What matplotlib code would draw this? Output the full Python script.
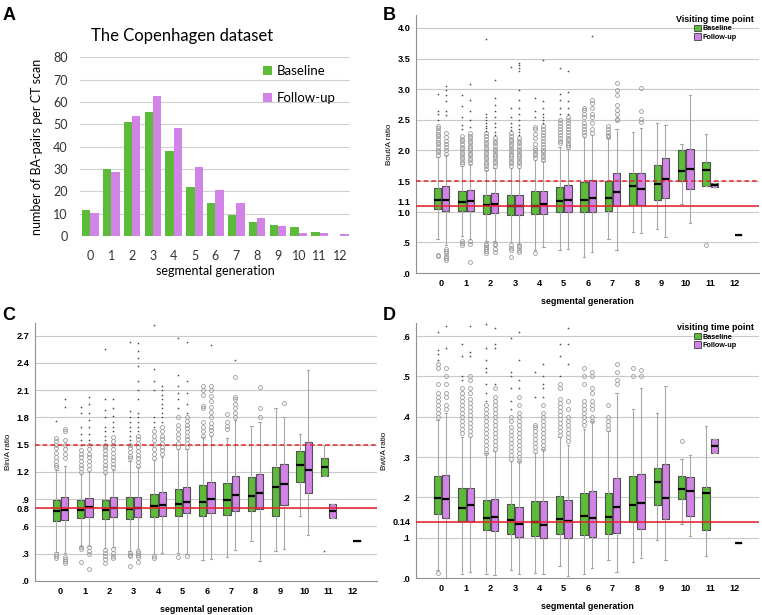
import numpy as np
import matplotlib.pyplot as plt
from matplotlib.patches import Patch

nan = np.nan
gens = np.arange(13)
gen_labels = [str(g) for g in gens]

# panel A: number of BA-pairs per CT scan
a_base = [11.5, 30, 51, 55.5, 38, 22, 15, 9.5, 6.5, 5, 4, 2, 0]
a_follow = [10.5, 28.5, 53.5, 62.5, 48.5, 31, 20.5, 15, 8, 4.5, 1.5, 1.5, 0.8]

# panel B: Bout/A ratio
b_base_q1 = [1.04, 1.02, 0.97, 0.95, 0.97, 0.99, 0.99, 1.02, 1.11, 1.20, 1.50, 1.42, nan]
b_base_med = [1.19, 1.16, 1.11, 1.10, 1.10, 1.18, 1.20, 1.23, 1.42, 1.46, 1.66, 1.68, nan]
b_base_q3 = [1.39, 1.34, 1.27, 1.28, 1.34, 1.41, 1.49, 1.50, 1.63, 1.77, 2.00, 1.82, nan]
b_base_lo = [0.56, 0.60, 0.52, 0.50, 0.38, 0.37, 0.27, 0.55, 0.67, 0.72, 1.13, 1.42, nan]
b_base_hi = [1.90, 1.75, 1.68, 1.72, 1.84, 2.05, 2.22, 2.20, 2.30, 2.45, 2.10, 2.27, nan]
b_base_circ = [
    [0.28, 0.30, 1.93, 1.97, 2.01, 2.06, 2.10, 2.14, 2.19, 2.23, 2.27, 2.32, 2.37, 2.40],
    [0.45, 0.49, 0.52, 1.78, 1.82, 1.86, 1.90, 1.94, 1.98, 2.02, 2.06, 2.10, 2.15, 2.19, 2.23],
    [0.33, 0.36, 0.39, 0.42, 0.46, 0.48, 1.70, 1.74, 1.78, 1.82, 1.86, 1.90, 1.94, 1.98, 2.02,
     2.06, 2.10, 2.14, 2.18, 2.23, 2.28],
    [0.27, 0.37, 0.41, 0.45, 1.75, 1.79, 1.83, 1.87, 1.91, 1.95, 1.99, 2.03, 2.07, 2.11, 2.15,
     2.19, 2.23, 2.28],
    [0.33, 1.88, 1.92, 1.96, 2.00, 2.04, 2.10, 2.20, 2.27, 2.35, 2.38],
    [2.12, 2.16, 2.20, 2.25, 2.30, 2.35, 2.40, 2.45, 2.50],
    [2.25, 2.30, 2.35, 2.40, 2.45, 2.55, 2.60, 2.66, 2.70],
    [2.22, 2.26, 2.30, 2.35, 2.40],
    [], [], [], [0.45], []]
b_base_star = [
    [2.49, 2.60, 2.65, 2.93],
    [2.35, 2.42, 2.55, 2.72, 2.90],
    [2.32, 2.36, 2.40, 2.45, 2.50, 2.55, 2.60, 3.82],
    [2.33, 2.38, 2.45, 2.55, 2.70, 3.37],
    [2.55, 2.64, 2.85],
    [2.60, 2.70, 2.82, 2.92, 3.35],
    [], [], [], [], [], [], []]

b_follow_q1 = [1.02, 1.02, 0.98, 0.95, 0.97, 1.00, 1.00, 1.09, 1.11, 1.22, 1.37, 1.40, 0.62]
b_follow_med = [1.20, 1.17, 1.13, 1.10, 1.13, 1.19, 1.23, 1.33, 1.37, 1.54, 1.69, 1.44, 0.62]
b_follow_q3 = [1.42, 1.35, 1.31, 1.28, 1.34, 1.43, 1.52, 1.63, 1.63, 1.87, 2.03, 1.47, 0.62]
b_follow_lo = [0.45, 0.55, 0.52, 0.48, 0.42, 0.40, 0.34, 0.38, 0.65, 0.59, 0.82, 1.40, 0.62]
b_follow_hi = [1.93, 1.78, 1.72, 1.72, 1.83, 2.03, 2.25, 2.35, 2.37, 2.42, 2.90, 1.47, 0.62]
b_follow_circ = [
    [0.22, 0.25, 0.28, 0.32, 0.36, 0.40, 1.95, 2.00, 2.05, 2.10, 2.15, 2.22, 2.28],
    [0.18, 0.48, 0.52, 1.80, 1.84, 1.88, 1.92, 1.96, 2.00, 2.04, 2.08, 2.12, 2.16, 2.20, 2.24, 2.28],
    [0.35, 0.40, 0.45, 0.48, 1.75, 1.79, 1.83, 1.87, 1.91, 1.95, 1.99, 2.03, 2.07, 2.12, 2.16, 2.20],
    [0.35, 0.38, 0.42, 0.45, 1.75, 1.79, 1.83, 1.87, 1.91, 1.95, 1.99, 2.03, 2.07, 2.12, 2.16, 2.20],
    [1.85, 1.89, 1.93, 1.97, 2.01, 2.05, 2.10, 2.15, 2.20, 2.25, 2.30, 2.35, 2.40],
    [2.05, 2.09, 2.13, 2.17, 2.21, 2.25, 2.30, 2.35, 2.40, 2.45, 2.50, 2.55],
    [2.28, 2.35, 2.45, 2.55, 2.60, 2.70, 2.78, 2.83],
    [2.50, 2.52, 2.60, 2.66, 2.75, 2.90, 2.98, 3.10],
    [2.47, 2.52, 2.65, 3.02],
    [], [], [], []]
b_follow_star = [
    [2.58, 2.65, 2.80, 2.90, 2.98, 3.05],
    [2.38, 2.50, 2.65, 2.83, 3.08],
    [2.25, 2.30, 2.38, 2.45, 2.55, 2.65, 2.75, 2.85, 3.15],
    [2.25, 2.30, 2.35, 2.42, 2.50, 2.60, 2.70, 2.82, 2.98, 3.30, 3.35, 3.40, 3.42],
    [2.45, 2.50, 2.55, 2.60, 2.70, 2.80, 3.47],
    [2.60, 2.70, 2.80, 2.95, 3.30],
    [3.87], [], [], [], [], [], []]

# panel C: Bin/A ratio
c_base_q1 = [0.665, 0.69, 0.68, 0.68, 0.70, 0.72, 0.71, 0.73, 0.77, 0.72, 1.09, 1.16, nan]
c_base_med = [0.775, 0.786, 0.78, 0.79, 0.83, 0.85, 0.875, 0.89, 0.94, 1.04, 1.275, 1.25, nan]
c_base_q3 = [0.89, 0.89, 0.89, 0.92, 0.96, 1.01, 1.06, 1.08, 1.14, 1.26, 1.43, 1.35, nan]
c_base_lo = [0.32, 0.38, 0.36, 0.33, 0.30, 0.31, 0.23, 0.26, 0.44, 0.33, 0.71, 1.16, nan]
c_base_hi = [1.22, 1.18, 1.18, 1.32, 1.33, 1.45, 1.58, 1.57, 1.71, 1.90, 1.62, 1.50, nan]
c_base_circ = [
    [0.25, 0.27, 0.30, 1.25, 1.28, 1.32, 1.36, 1.41, 1.46, 1.50, 1.54, 1.57],
    [0.21, 0.35, 0.37, 1.20, 1.24, 1.28, 1.32, 1.36, 1.40, 1.44],
    [0.20, 0.24, 0.28, 0.31, 0.34, 1.20, 1.24, 1.28, 1.32, 1.36, 1.40, 1.44, 1.48, 1.50],
    [0.17, 0.27, 0.29, 0.31, 1.35, 1.38, 1.42, 1.46, 1.50],
    [0.25, 0.28, 1.35, 1.40, 1.45, 1.50, 1.55, 1.60, 1.65],
    [0.26, 1.47, 1.52, 1.57, 1.62, 1.67, 1.72, 1.80],
    [1.60, 1.65, 1.70, 1.75, 1.90, 1.93, 2.05, 2.10, 2.15],
    [1.67, 1.71, 1.75, 1.84],
    [], [], [], [], []]
c_base_star = [
    [1.76],
    [1.50, 1.55, 1.62, 1.70, 1.85, 1.92],
    [1.55, 1.60, 1.65, 1.70, 1.80, 1.88, 2.00, 2.55],
    [1.55, 1.60, 1.65, 1.70, 1.75, 1.80, 1.87, 2.63],
    [1.70, 1.75, 1.80, 2.10, 2.20, 2.33, 2.82],
    [1.90, 2.00, 2.07, 2.15, 2.27, 2.68],
    [], [], [], [], [], [0.33], []]

c_follow_q1 = [0.67, 0.70, 0.70, 0.70, 0.72, 0.745, 0.745, 0.775, 0.79, 0.84, 0.97, 0.69, 0.445]
c_follow_med = [0.786, 0.81, 0.80, 0.80, 0.84, 0.87, 0.90, 0.95, 0.97, 1.07, 1.22, 0.77, 0.445]
c_follow_q3 = [0.92, 0.91, 0.92, 0.93, 0.985, 1.04, 1.09, 1.16, 1.18, 1.29, 1.525, 0.845, 0.445]
c_follow_lo = [0.31, 0.39, 0.37, 0.35, 0.31, 0.30, 0.24, 0.34, 0.22, 0.35, 0.51, 0.69, 0.445]
c_follow_hi = [1.27, 1.20, 1.22, 1.25, 1.37, 1.45, 1.60, 1.77, 1.75, 1.80, 2.32, 0.845, 0.445]
c_follow_circ = [
    [0.20, 0.22, 0.24, 0.26, 1.35, 1.40, 1.45, 1.50, 1.55, 1.65, 1.67],
    [0.13, 0.30, 0.33, 0.37, 1.23, 1.28, 1.32, 1.36, 1.40, 1.45, 1.50],
    [0.25, 0.28, 0.31, 0.35, 1.25, 1.29, 1.33, 1.37, 1.41, 1.45, 1.50, 1.54, 1.58],
    [0.21, 0.26, 0.29, 0.31, 0.33, 1.27, 1.31, 1.35, 1.39, 1.43, 1.47, 1.52, 1.56, 1.60],
    [1.40, 1.44, 1.48, 1.52, 1.56, 1.60, 1.65, 1.70],
    [0.27, 1.48, 1.52, 1.56, 1.60, 1.64, 1.68, 1.72, 1.76, 1.80],
    [1.62, 1.66, 1.70, 1.74, 1.80, 1.86, 1.92, 1.98, 2.04, 2.10, 2.15],
    [1.80, 1.85, 1.90, 1.95, 2.00, 2.02, 2.25],
    [1.80, 1.90, 2.13],
    [1.96], [], [], []]
c_follow_star = [
    [1.92, 2.00],
    [1.55, 1.62, 1.70, 1.77, 1.85, 1.95, 2.03],
    [1.65, 1.70, 1.75, 1.82, 1.90, 2.00],
    [1.65, 1.70, 1.75, 1.80, 1.85, 2.00, 2.10, 2.20, 2.37, 2.45, 2.53, 2.62],
    [1.75, 1.80, 1.85, 1.90, 1.95, 2.00, 2.05, 2.10, 2.15],
    [1.85, 1.95, 2.07, 2.20, 2.63],
    [2.60], [2.43], [], [], [], [], []]

# panel D: Bwt/A ratio
d_base_q1 = [0.158, 0.141, 0.118, 0.11, 0.105, 0.11, 0.107, 0.11, 0.138, 0.182, 0.196, 0.12, nan]
d_base_med = [0.198, 0.174, 0.149, 0.144, 0.14, 0.146, 0.153, 0.151, 0.182, 0.237, 0.221, 0.21, nan]
d_base_q3 = [0.254, 0.224, 0.193, 0.183, 0.19, 0.203, 0.212, 0.212, 0.254, 0.272, 0.252, 0.225, nan]
d_base_lo = [0.019, 0.01, 0.01, 0.02, 0.013, 0.03, 0.01, 0.045, 0.04, 0.095, 0.135, 0.055, nan]
d_base_hi = [0.392, 0.35, 0.31, 0.29, 0.31, 0.35, 0.37, 0.365, 0.42, 0.41, 0.295, 0.377, nan]
d_base_circ = [
    [0.012, 0.40, 0.41, 0.42, 0.43, 0.44, 0.45, 0.46, 0.48, 0.52, 0.53],
    [0.36, 0.37, 0.38, 0.39, 0.40, 0.41, 0.42, 0.43, 0.44, 0.45, 0.46, 0.47],
    [0.31, 0.32, 0.33, 0.34, 0.35, 0.36, 0.37, 0.38, 0.39, 0.40, 0.41, 0.42, 0.43],
    [0.295, 0.305, 0.315, 0.325, 0.335, 0.345, 0.355, 0.365, 0.375, 0.39, 0.40],
    [0.315, 0.325, 0.335, 0.345, 0.355, 0.365, 0.375, 0.38],
    [0.355, 0.365, 0.375, 0.385, 0.395, 0.405, 0.415, 0.425, 0.435, 0.445, 0.47, 0.48],
    [0.38, 0.39, 0.40, 0.41, 0.42, 0.43, 0.44, 0.48, 0.50, 0.52],
    [0.37, 0.38, 0.39, 0.40, 0.43],
    [0.50, 0.52], [], [0.34], [], []]
d_base_star = [
    [0.54, 0.555, 0.565, 0.61],
    [0.49, 0.50, 0.55, 0.58],
    [0.44, 0.46, 0.48, 0.51, 0.52, 0.54, 0.57, 0.63],
    [0.42, 0.44, 0.47, 0.50, 0.51, 0.595],
    [0.45, 0.51],
    [0.50, 0.55, 0.58],
    [], [], [], [], [], [], []]

d_follow_q1 = [0.15, 0.142, 0.117, 0.103, 0.10, 0.10, 0.102, 0.111, 0.121, 0.146, 0.153, 0.309, 0.087]
d_follow_med = [0.196, 0.18, 0.152, 0.135, 0.131, 0.142, 0.149, 0.175, 0.187, 0.199, 0.217, 0.328, 0.087]
d_follow_q3 = [0.255, 0.223, 0.196, 0.177, 0.19, 0.194, 0.215, 0.249, 0.258, 0.283, 0.25, 0.345, 0.087]
d_follow_lo = [0.0, 0.015, 0.007, 0.009, 0.009, 0.005, 0.025, 0.015, 0.05, 0.045, 0.105, 0.309, 0.087]
d_follow_hi = [0.41, 0.35, 0.315, 0.29, 0.32, 0.33, 0.39, 0.46, 0.47, 0.475, 0.305, 0.345, 0.087]
d_follow_circ = [
    [0.42, 0.43, 0.45, 0.46, 0.48, 0.50, 0.52],
    [0.355, 0.365, 0.375, 0.385, 0.395, 0.405, 0.415, 0.425, 0.435, 0.445, 0.46, 0.47, 0.49, 0.50],
    [0.32, 0.33, 0.34, 0.35, 0.36, 0.37, 0.38, 0.39, 0.40, 0.41, 0.42, 0.43, 0.44, 0.45, 0.47],
    [0.29, 0.30, 0.31, 0.32, 0.33, 0.34, 0.35, 0.36, 0.37, 0.38, 0.39, 0.40, 0.41, 0.43, 0.45],
    [0.32, 0.33, 0.34, 0.35, 0.36, 0.37, 0.38, 0.39, 0.40, 0.41, 0.43],
    [0.34, 0.35, 0.36, 0.37, 0.38, 0.39, 0.40, 0.42, 0.44],
    [0.39, 0.40, 0.42, 0.43, 0.44, 0.46, 0.47, 0.50, 0.51],
    [0.48, 0.49, 0.51, 0.53],
    [0.50, 0.515], [], [], [], []]
d_follow_star = [
    [0.57, 0.625],
    [0.55, 0.56, 0.625],
    [0.48, 0.57, 0.58, 0.62],
    [0.47, 0.49, 0.54, 0.61],
    [0.45, 0.47, 0.48, 0.50, 0.53],
    [0.53, 0.58, 0.62],
    [], [], [], [], [], [], []]

green = "#5cbb38"
pink = "#d283e6"
red = "#e8202e"
sans = ["Liberation Sans", "DejaVu Sans"]


def draw_boxes(ax, q1, med, q3, lo, hi, circ, star, offset, color):
    stats = []
    pos = []
    for i in range(len(gens)):
        if np.isnan(q1[i]):
            continue
        stats.append({"q1": q1[i], "med": med[i], "q3": q3[i], "whislo": lo[i], "whishi": hi[i],
                      "fliers": []})
        pos.append(gens[i] + offset)
    ax.bxp(stats, positions=pos, widths=0.3, showfliers=False, patch_artist=True,
           boxprops=dict(facecolor=color, edgecolor="#505050", linewidth=0.8),
           medianprops=dict(color="black", linewidth=1.6),
           whiskerprops=dict(color="#a8a8a8", linewidth=0.8),
           capprops=dict(color="#a8a8a8", linewidth=0.8), capwidths=0.1, zorder=3)
    for i in range(len(gens)):
        if circ[i]:
            ax.plot([gens[i] + offset] * len(circ[i]), circ[i], "o", ms=2.8, mfc="none",
                    mec="#9a9a9a", mew=0.6, zorder=3)
        if star[i]:
            ax.plot([gens[i] + offset] * len(star[i]), star[i], "*", ms=2.0, color="#444444",
                    mew=0, zorder=3)


def box_panel(rect, ylim, yticks, ytick_labels, ylabel, solid, dashed, base, follow, legend_title,
              label_shift=None):
    ax = fig.add_axes(rect)
    ax.set_xlim(-1.05, 13.0)
    ax.set_ylim(*ylim)
    for y in yticks:
        ax.axhline(y, color="#c8c8c8", lw=0.8, zorder=0)
    draw_boxes(ax, *base, -0.17, green)
    draw_boxes(ax, *follow, 0.17, pink)
    ax.axhline(solid, color=red, lw=1.1, zorder=5)
    if dashed is not None:
        ax.axhline(dashed, color=red, lw=1.1, ls=(0, (3, 2)), zorder=5)
    ax.set_yticks(yticks)
    labels = list(ytick_labels)
    # SPSS nudges crowded tick labels apart
    if label_shift:
        for idx, dy in label_shift.items():
            ax.annotate(labels[idx], xy=(0, yticks[idx]), xycoords=ax.get_yaxis_transform(),
                        xytext=(-4, dy), textcoords="offset points", ha="right", va="center",
                        fontsize=6.6, fontweight="bold", family=sans)
            labels[idx] = ""
    ax.set_yticklabels(labels, fontsize=6.6, fontweight="bold", family=sans)
    ax.set_xticks(gens)
    ax.set_xticklabels(gen_labels, fontsize=6.6, fontweight="bold", family=sans)
    ax.tick_params(length=0, pad=4)
    ax.set_ylabel(ylabel, fontsize=5.8, family=sans, labelpad=3)
    ax.set_xlabel("segmental generation", fontsize=6.4, fontweight="bold", family=sans, labelpad=6.5)
    for s in ["top", "right"]:
        ax.spines[s].set_visible(False)
    for s in ["left", "bottom"]:
        ax.spines[s].set_color("#909090")
        ax.spines[s].set_linewidth(0.8)
    if legend_title:
        handles = [Patch(facecolor=green, edgecolor="#404040", lw=0.6, label="Baseline"),
                   Patch(facecolor=pink, edgecolor="#404040", lw=0.6, label="Follow-up")]
        leg = ax.legend(handles=handles, title=legend_title, loc="upper right",
                        bbox_to_anchor=(1.0, 1.02), frameon=False,
                        prop={"family": sans, "weight": "bold", "size": 5.2},
                        handlelength=1.0, handleheight=1.0, handletextpad=0.2,
                        labelspacing=0.1, borderpad=0.2)
        leg.get_title().set_fontsize(6.4)
        leg.get_title().set_fontweight("bold")
        leg.get_title().set_family(sans)
        leg.set_zorder(6)
    return ax


fig = plt.figure(figsize=(7.62, 6.15), dpi=100)

# panel A
axa = fig.add_axes([0.105, 0.616, 0.354, 0.291])
axa.bar(gens - 0.2, a_base, 0.4, color=green, label="Baseline", zorder=2)
axa.bar(gens + 0.2, a_follow, 0.4, color=pink, label="Follow-up", zorder=2)
axa.set_xlim(-0.5, 12.45)
axa.set_ylim(0, 80)
axa.set_yticks(np.arange(0, 81, 10))
axa.yaxis.grid(True, color="#d0d0d0", lw=0.8, zorder=0)
axa.set_axisbelow(True)
axa.set_xticks(gens)
axa.set_xticklabels(gen_labels)
lato = ["Lato", "DejaVu Sans"]
for lab in axa.get_xticklabels() + axa.get_yticklabels():
    lab.set_family(lato)
    lab.set_fontsize(9)
    lab.set_color("#333333")
axa.tick_params(axis="x", length=0, pad=10)
axa.tick_params(axis="y", length=0, pad=9)
for s in axa.spines.values():
    s.set_visible(False)
axa.set_ylabel("number of BA-pairs per CT scan", fontsize=9, family=lato, labelpad=7)
axa.set_xlabel("segmental generation", fontsize=9, family=lato, labelpad=2)
axa.set_title("The Copenhagen dataset", fontsize=12, family=lato, x=0.38, pad=12)
axa.legend(loc="upper right", bbox_to_anchor=(0.99, 1.02), frameon=False,
           prop={"family": lato, "size": 9.5}, handlelength=0.7, handleheight=0.7,
           handletextpad=0.3, labelspacing=1.1)

box_panel([0.546, 0.556, 0.450, 0.4195], (0, 4.21),
          [0, 0.5, 1.0, 1.1, 1.5, 2.0, 2.5, 3.0, 3.5, 4.0],
          [".0", ".5", "1.0", "1.1", "1.5", "2.0", "2.5", "3.0", "3.5", "4.0"],
          "Bout/A ratio", 1.1, 1.5,
          (b_base_q1, b_base_med, b_base_q3, b_base_lo, b_base_hi, b_base_circ, b_base_star),
          (b_follow_q1, b_follow_med, b_follow_q3, b_follow_lo, b_follow_hi, b_follow_circ, b_follow_star),
          "Visiting time point", label_shift={2: -1, 3: 2.5})

box_panel([0.046, 0.0553, 0.449, 0.4195], (0, 2.84),
          [0, 0.3, 0.6, 0.8, 0.9, 1.2, 1.5, 1.8, 2.1, 2.4, 2.7],
          [".0", ".3", ".6", "0.8", ".9", "1.2", "1.5", "1.8", "2.1", "2.4", "2.7"],
          "Bin/A ratio", 0.8, 1.5,
          (c_base_q1, c_base_med, c_base_q3, c_base_lo, c_base_hi, c_base_circ, c_base_star),
          (c_follow_q1, c_follow_med, c_follow_q3, c_follow_lo, c_follow_hi, c_follow_circ, c_follow_star),
          None)

box_panel([0.546, 0.060, 0.450, 0.4146], (0, 0.632),
          [0, 0.1, 0.14, 0.2, 0.3, 0.4, 0.5, 0.6],
          [".0", ".1", "0.14", ".2", ".3", ".4", ".5", ".6"],
          "Bwt/A ratio", 0.14, None,
          (d_base_q1, d_base_med, d_base_q3, d_base_lo, d_base_hi, d_base_circ, d_base_star),
          (d_follow_q1, d_follow_med, d_follow_q3, d_follow_lo, d_follow_hi, d_follow_circ, d_follow_star),
          "visiting time point")

for letter, x, y in [("A", 0.003, 0.975), ("B", 0.502, 0.975), ("C", 0.003, 0.487), ("D", 0.502, 0.487)]:
    fig.text(x, y, letter, fontsize=13, fontweight="bold", family=sans, va="center")

fig.savefig("out.png", dpi=100)
